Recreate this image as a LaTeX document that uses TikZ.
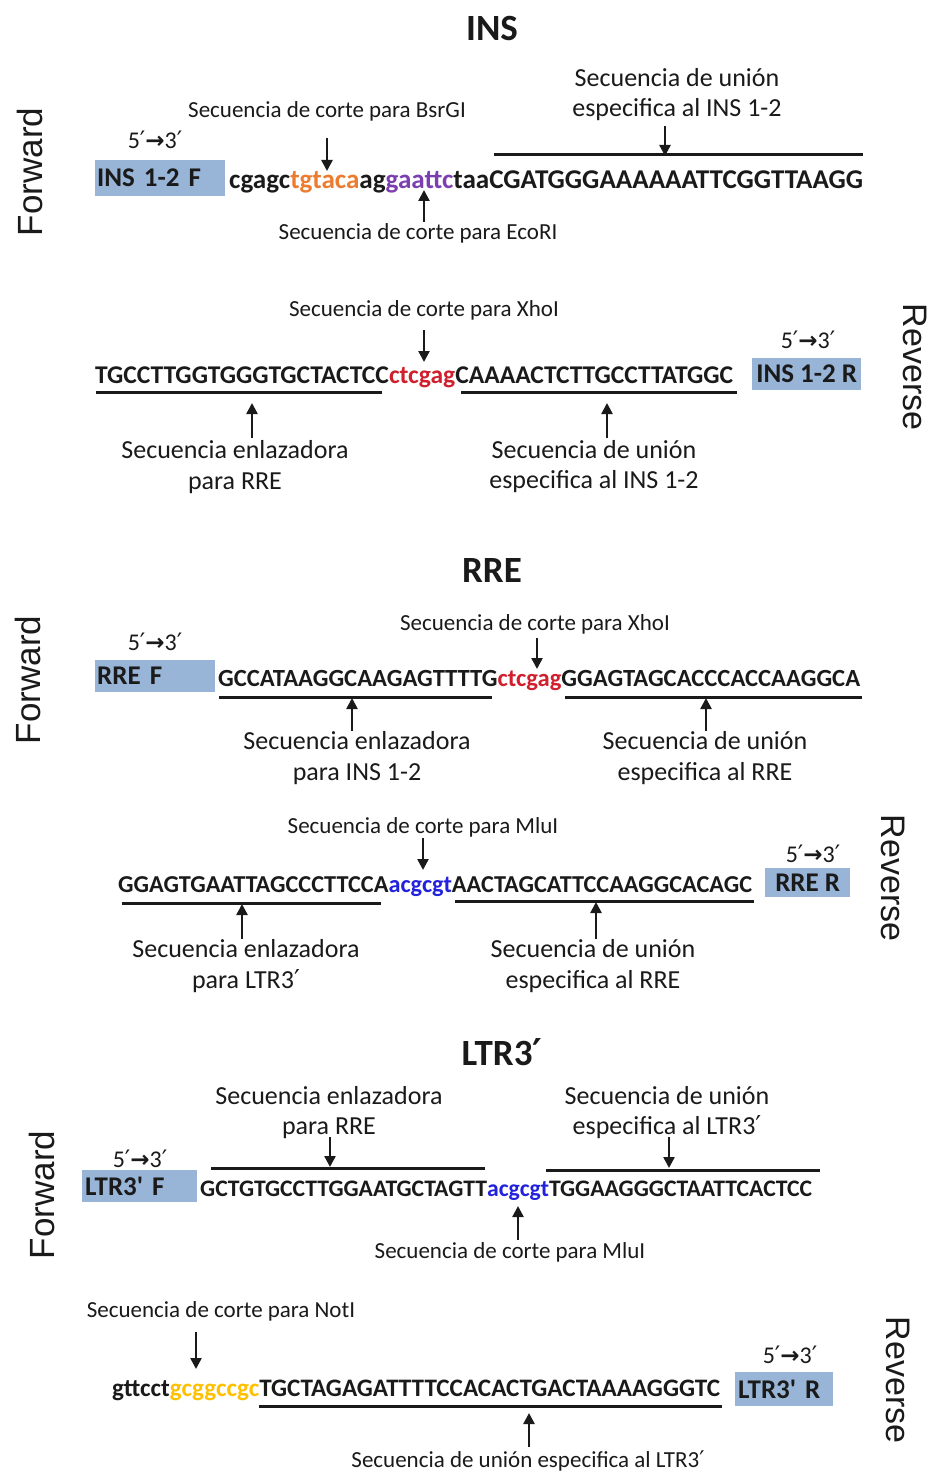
\documentclass[tikz,border=0pt]{standalone}
\usepackage{fontspec}
\setmainfont{Carlito}[Ligatures=TeXOff]
\newfontfamily\arialf{Liberation Sans}
\newfontfamily\dejavu{DejaVu Sans}
\usetikzlibrary{arrows.meta}
\definecolor{boxblue}{HTML}{98B4D6}
\definecolor{corange}{HTML}{EC7C30}
\definecolor{cpurple}{HTML}{7B3FB0}
\definecolor{cred}{HTML}{D0202E}
\definecolor{cblue}{HTML}{2222DD}
\definecolor{cyellow}{HTML}{FFC000}
\definecolor{ink}{HTML}{1A1A1A}
\newcommand\ft[2]{\fontsize{#1}{#2}\selectfont}
\newcommand\prm{{\dejavu ′}}
\newcommand\fivethree{5\prm{\dejavu\bfseries\ft{23}{26}→}3\prm}
\newcommand\fitseq[2]{\resizebox{#1pt}{!}{\bfseries\ft{26}{30}#2}}
\newcommand\gap{\hspace{5pt}}
\newcommand\bgap{\hspace{9pt}}
\tikzset{
  lab/.style={font=\ft{23}{28}, inner sep=0, anchor=base, text=ink},
  labb/.style={font=\ft{26}{31}, inner sep=0, anchor=base, text=ink},
  ttl/.style={font=\bfseries\ft{37}{42}, inner sep=0, anchor=base, text=ink},
  dir/.style={font=\ft{24}{28}, inner sep=0, anchor=base, text=ink},
  seqn/.style={inner sep=0, anchor=base west, text=ink},
  pbox/.style={fill=boxblue, font=\bfseries\ft{27}{32}, anchor=north west, inner ysep=0, inner xsep=2pt, text=ink},
  side/.style={font=\arialf\ft{35}{40}, inner sep=0, text=ink},
  bar/.style={line width=3pt, ink},
  arr/.style={line width=2.4pt, ink, -{Triangle[length=11pt,width=11pt]}},
}
\begin{document}
\begin{tikzpicture}[x=1pt,y=-1pt]
\path[fill=white, use as bounding box] (0,0) rectangle (937,1471);

%% ===== INS =====
\node[ttl] (tins) at (492,41) {INS};
\node[side, rotate=90] (fw1) at (30,172) {Forward};
\node[dir] (d1) at (155,149) {\fivethree};
\node[pbox, minimum width=130, minimum height=36, text width=126, align=left] (b1) at (95,160) {INS 1-2 F};
\node[seqn] (s1) at (229,189) {\fitseq{634}{cgagc\textcolor{corange}{tgtaca}ag\textcolor{cpurple}{gaattc}taaCGATGGGAAAAAATTCGGTTAAGG}};
\node[labb] (u1a) at (677,87) {Secuencia de unión};
\node[labb] (u1b) at (677,117) {especifica al INS 1-2};
\node[lab] (bsr) at (327,118) {Secuencia de corte\gap para BsrGI};
\node[lab] (eco) at (418,240) {Secuencia de corte\gap para EcoRI};
\coordinate (o1a) at (494,155); \coordinate (o1b) at (863,155);
\draw[bar] (o1a) -- (o1b);
\coordinate (a1s) at (665,126); \coordinate (a1e) at (665,156);
\draw[arr] (a1s) -- (a1e);
\coordinate (a2s) at (327,138); \coordinate (a2e) at (327,171);
\draw[arr] (a2s) -- (a2e);
\coordinate (a3s) at (424,222); \coordinate (a3e) at (424,190);
\draw[arr] (a3s) -- (a3e);

%% INS reverse
\node[lab] (xho1) at (424,316) {Secuencia de corte\gap para XhoI};
\coordinate (a4s) at (424,330); \coordinate (a4e) at (424,362);
\draw[arr] (a4s) -- (a4e);
\node[dir] (d2) at (808,348) {\fivethree};
\node[pbox, minimum width=109, minimum height=32] (b2) at (752,358) {INS 1-2 R};
\node[seqn] (s2) at (95,383) {\fitseq{638}{TGCCTTGGTGGGTGCTACTCC\textcolor{cred}{ctcgag}CAAAACTCTTGCCTTATGGC}};
\coordinate (u2a) at (96,392); \coordinate (u2b) at (382,392);
\coordinate (u2c) at (461,392); \coordinate (u2d) at (737,392);
\draw[bar] (u2a) -- (u2b);
\draw[bar] (u2c) -- (u2d);
\coordinate (a5s) at (252,438); \coordinate (a5e) at (252,403);
\draw[arr] (a5s) -- (a5e);
\coordinate (a6s) at (607,438); \coordinate (a6e) at (607,403);
\draw[arr] (a6s) -- (a6e);
\node[labb] (l2a) at (235,458) {Secuencia enlazadora};
\node[labb] (l2b) at (235,489) {para RRE};
\node[labb] (l2c) at (594,458) {Secuencia de unión};
\node[labb] (l2d) at (594,488) {especifica al INS 1-2};
\node[side, rotate=-90, font=\arialf\ft{34}{40}] (rv1) at (915,367) {Reverse};

%% ===== RRE =====
\node[ttl] (trre) at (492,582) {RRE};
\node[side, rotate=90] (fw2) at (28,680) {Forward};
\node[dir] (d3) at (155,650) {\fivethree};
\node[pbox, minimum width=120, minimum height=32, text width=116, align=left] (b3) at (95,660) {RRE F};
\node[seqn] (s3) at (218,686) {\fitseq{642}{GCCATAAGGCAAGAGTTTTG\textcolor{cred}{ctcgag}GGAGTAGCACCCACCAAGGCA}};
\node[lab] (xho2) at (535,630) {Secuencia de corte\gap para XhoI};
\coordinate (a7s) at (537,638); \coordinate (a7e) at (537,669);
\draw[arr] (a7s) -- (a7e);
\coordinate (u3a) at (219,697); \coordinate (u3b) at (492,697);
\coordinate (u3c) at (565,697); \coordinate (u3d) at (862,697);
\draw[bar] (u3a) -- (u3b);
\draw[bar] (u3c) -- (u3d);
\coordinate (a8s) at (352,731); \coordinate (a8e) at (352,698);
\draw[arr] (a8s) -- (a8e);
\coordinate (a9s) at (706,731); \coordinate (a9e) at (706,698);
\draw[arr] (a9s) -- (a9e);
\node[labb] (l3a) at (357,749) {Secuencia enlazadora};
\node[labb] (l3b) at (357,780) {para INS 1-2};
\node[labb] (l3c) at (705,749) {Secuencia de unión};
\node[labb] (l3d) at (705,780) {especifica al RRE};

%% RRE reverse
\node[lab] (mlu1) at (423,833) {Secuencia de corte\gap para MluI};
\coordinate (a10s) at (423,838); \coordinate (a10e) at (423,870);
\draw[arr] (a10s) -- (a10e);
\node[dir] (d4) at (813,862) {\fivethree};
\node[pbox, minimum width=85, minimum height=29] (b4) at (765,868) {RRE R};
\node[seqn] (s4) at (118,892) {\fitseq{634}{GGAGTGAATTAGCCCTTCCA\textcolor{cblue}{acgcgt}AACTAGCATTCCAAGGCACAGC}};
\coordinate (u4a) at (122,903); \coordinate (u4b) at (381,903);
\coordinate (u4c) at (455,901); \coordinate (u4d) at (754,901);
\draw[bar] (u4a) -- (u4b);
\draw[bar] (u4c) -- (u4d);
\coordinate (a11s) at (242,939); \coordinate (a11e) at (242,904);
\draw[arr] (a11s) -- (a11e);
\coordinate (a12s) at (596,939); \coordinate (a12e) at (596,902);
\draw[arr] (a12s) -- (a12e);
\node[labb] (l4a) at (246,957) {Secuencia enlazadora};
\node[labb] (l4b) at (246,988) {para LTR3\prm};
\node[labb] (l4c) at (593,957) {Secuencia de unión};
\node[labb] (l4d) at (593,988) {especifica al RRE};
\node[side, rotate=-90, font=\arialf\ft{34}{40}] (rv2) at (893,878) {Reverse};

%% ===== LTR3' =====
\node[ttl] (tltr) at (502,1065) {LTR3\prm};
\node[side, rotate=90] (fw3) at (42,1195) {Forward};
\node[labb] (l5a) at (329,1104) {Secuencia enlazadora};
\node[labb] (l5b) at (329,1134) {para RRE};
\node[labb] (l5c) at (667,1104) {Secuencia de unión};
\node[labb] (l5d) at (667,1134) {especifica al LTR3\prm};
\coordinate (a13s) at (330,1137); \coordinate (a13e) at (330,1167);
\draw[arr] (a13s) -- (a13e);
\coordinate (a14s) at (669,1137); \coordinate (a14e) at (669,1168);
\draw[arr] (a14s) -- (a14e);
\coordinate (o5a) at (211,1168); \coordinate (o5b) at (485,1168);
\coordinate (o5c) at (546,1170); \coordinate (o5d) at (820,1170);
\draw[bar] (o5a) -- (o5b);
\draw[bar] (o5c) -- (o5d);
\node[dir] (d5) at (140,1167) {\fivethree};
\node[pbox, minimum width=115, minimum height=32, text width=109, inner xsep=3pt, align=left] (b5) at (82,1170) {LTR3'\bgap F};
\node[seqn] (s5) at (200,1196) {\fitseq{612}{GCTGTGCCTTGGAATGCTAGTT\textcolor{cblue}{acgcgt}TGGAAGGGCTAATTCACTCC}};
\node[lab] (mlu2) at (510,1258) {Secuencia de corte\gap para MluI};
\coordinate (a15s) at (518,1240); \coordinate (a15e) at (518,1206);
\draw[arr] (a15s) -- (a15e);

%% LTR3' reverse
\node[lab] (not) at (221,1317) {Secuencia de corte\gap para NotI};
\coordinate (a16s) at (196,1332); \coordinate (a16e) at (196,1369);
\draw[arr] (a16s) -- (a16e);
\node[dir] (d6) at (790,1363) {\fivethree};
\node[pbox, minimum width=98, minimum height=34, text width=92, inner xsep=3pt, align=left] (b6) at (735,1372) {LTR3'\bgap R};
\node[seqn] (s6) at (112,1396) {\fitseq{608}{gttcct\textcolor{cyellow}{gcggccgc}TGCTAGAGATTTTCCACACTGACTAAAAGGGTC}};
\coordinate (u6a) at (259,1406); \coordinate (u6b) at (722,1406);
\draw[bar] (u6a) -- (u6b);
\coordinate (a17s) at (529,1447); \coordinate (a17e) at (529,1413);
\draw[arr] (a17s) -- (a17e);
\node[lab] (l6) at (528,1467) {Secuencia de unión especifica al LTR3\prm};
\node[side, rotate=-90, font=\arialf\ft{34}{40}] (rv3) at (898,1380) {Reverse};
\end{tikzpicture}
\end{document}
